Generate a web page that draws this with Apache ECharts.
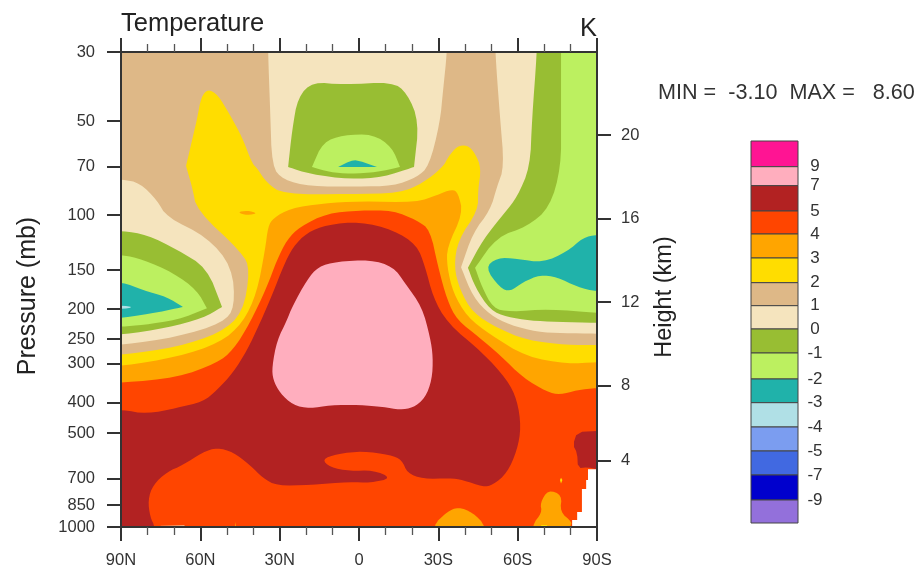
<!DOCTYPE html>
<html>
<head>
<meta charset="utf-8">
<style>html,body{margin:0;padding:0;background:#fff}#c{width:919px;height:569px}</style>
<script src="https://cdn.jsdelivr.net/npm/echarts@6/dist/echarts.min.js"></script>
</head>
<body>
<div id="c"></div>
<script>
// Tick labels
const pressureTicks = [30,50,70,100,150,200,250,300,400,500,700,850,1000];
const heightKm = [4,8,12,16,20];
const heightPressure = [614,353,190,102.4,55.4];
const levelLabels = ['9','7','5','4','3','2','1','0','-1','-2','-3','-4','-5','-7','-9'];
const boxColors = ['#FF1493','#FFAEBE','#B22222','#FF4500','#FFA500','#FFDD00','#DEB887','#F5E4BE','#98BE33','#BCF060','#20B2AA','#B0E0E6','#7B9DF0','#4169E1','#0000CD','#9370DB'];
const boxEdges = [0,25.7,44.7,70,93,117,141.7,164.7,188,212,238,261.7,286,310,334,359,382];

// Filled contour regions as [latitude, pressure]
const tanBase = [[98,25],[-98,25],[-98,1200],[98,1200]];
const wheatCenter = [[34.4,25],[34.4,30],[33.6,46],[32.9,70],[28.7,77],[18.5,81],[0.7,81],[-12.9,80.7],[-21.9,75.6],[-26.5,69.6],[-30.6,50.7],[-31.8,39.7],[-33.3,30],[-33.3,25]];
const wheatRight = [[-51.5,25],[-51.5,30],[-53.3,48.4],[-54.9,70],[-52.2,81],[-49.6,96.6],[-43.1,113.9],[-38.6,147],[-38.6,147],[-43.1,183],[-49.6,209],[-57.1,225],[-67.3,237],[-77.2,239],[-90,240],[-98,240],[-98,25]];
const wheatLeft = [[98,76.8],[89.6,76.8],[82.8,78.9],[76.4,89.6],[72.6,101.7],[57.5,117.3],[48,146.4],[46.9,197],[51.4,221.5],[68.8,246],[89.6,261],[98,261]];
const greenCenter = [[26.8,70.1],[26.8,70.1],[25.3,53.4],[23.1,41.8],[17.4,37.4],[6,38.2],[-12.5,37.4],[-18.2,40.6],[-22.7,50.3],[-20.8,70.1],[-20.8,70.1],[-9.1,75.6],[3.4,76.8],[18.5,73.9]];
const greenRight = [[-67.3,25],[-67.3,30],[-65.4,49.5],[-64.7,70.1],[-59.8,87.6],[-55.2,98],[-46.9,119.9],[-41.2,147.5],[-41.2,147.5],[-43.9,170],[-49.6,202],[-56,212],[-64.7,218],[-74.9,220],[-90,221.5],[-98,221.5],[-98,25]];
const greenLeft = [[98,112.3],[89.6,112.3],[80.2,115.6],[68.8,129],[57.5,147.5],[51.8,197],[51.8,197],[59,214],[72.6,230],[89.6,242],[98,242]];
const limeCenter = [[17.8,70.1],[17.8,70.1],[13.6,58.3],[6,55.4],[-5.3,55],[-12.5,60.6],[-15.5,70.1],[-15.5,70.1],[-6.8,72.8],[3.4,73.9],[11,72.8]];
const limeRight = [[-76.4,25],[-76.4,30],[-76.4,49.5],[-76.4,70.1],[-72.2,94.5],[-63.5,109],[-52.2,117.3],[-43.9,147.5],[-43.9,147.5],[-46.5,170],[-50.7,199],[-57.1,204.5],[-72.2,200],[-90,206],[-98,206],[-98,25]];
const limeLeft = [[98,134],[89.6,134],[81.7,139],[70.3,153],[61.3,174],[57.5,199],[57.5,199],[68.8,217],[81.7,225],[89.6,228],[98,228]];
const tealCenter = [[7.9,70.1],[7.9,70.1],[3.4,67.1],[0.7,66.6],[-6.8,70.1],[-6.8,70.1]];
const tealRight = [[-47.7,147.5],[-52.2,137],[-59.8,138],[-69.6,142],[-78.7,131],[-84.7,118.1],[-90,115.6],[-98,115.6],[-98,176],[-90,176],[-82.5,170],[-74.9,157.8],[-68.5,155.5],[-62,164],[-57.1,176],[-53.3,171]];
const tealLeft = [[98,164],[89.6,164],[81.7,174],[72.6,183],[66.6,197],[66.6,197],[75.2,204.5],[89.6,214],[98,214]];
const blueSliver = [[98,195],[89,195],[85.5,197.5],[89,200],[98,200]];
const yellowMain = [[98,281],[89.6,281],[68.8,265],[52.6,239],[43.9,206],[41.2,149.7],[44.2,132],[61.3,96.6],[63.1,81.3],[65.4,69.6],[65.4,69.6],[63.1,57.4],[61.3,49.5],[59.7,41.8],[57.1,39.4],[53.3,41.2],[48.8,47.7],[44.2,56.2],[40.5,68.1],[38.6,70.7],[34.8,78.9],[28.7,85.7],[3.4,85.7],[-15.5,85],[-24.2,78.9],[-31.8,70.1],[-33.7,65.1],[-37.1,60.1],[-40.9,59.6],[-43.9,63.3],[-46.2,70.7],[-45,83.2],[-45,96.6],[-37.5,119.9],[-35.9,146.4],[-38.2,174],[-43.1,206],[-52.2,230],[-63.5,252],[-78.7,261],[-90,261],[-98,261],[-98,1200],[98,1200]];
const orangeSliver = [[46.1,98],[42.3,96.6],[38.2,98.7],[42.3,100.2]];
const orangeMain = [[98,305],[89.6,305],[68.8,285],[52.6,257],[43.9,221.5],[38.6,177.5],[35.5,129],[34.4,109],[32.5,102.4],[26.1,95.2],[13.6,91.7],[-0.4,90.3],[-21.9,91],[-29.5,86.3],[-35.2,82.5],[-37.5,85],[-39.3,98.7],[-33.3,126.6],[-33.3,146.4],[-35.6,177.5],[-40.9,212],[-49.6,242],[-63.5,285],[-78.7,300],[-90,296],[-98,296],[-98,1200],[98,1200]];
const redOrangeMain = [[98,345],[89.6,345],[68.8,332],[53.7,298],[47.6,271],[41.2,221.5],[34.8,170],[31,139],[27.2,119.9],[22.3,109],[12.1,98.7],[-0.4,96.6],[-12.9,96.6],[-21.9,104],[-26.9,111.5],[-29.9,146.4],[-33.3,187],[-37.1,217],[-45.8,248],[-53.3,281],[-62,332],[-71.1,369],[-76,377],[-82.5,364],[-90,358],[-98,358],[-98,1200],[98,1200]];
const brickMain = [[98,421],[89.6,421],[80.2,434],[68.8,415],[59,397],[53.7,364],[47.6,320],[42.3,271],[37.4,221.5],[32.5,177.5],[28.7,146.4],[25,126.6],[19.7,113.9],[12.1,107.4],[-0.4,105],[-12.9,111.5],[-21.9,124.7],[-25,146.4],[-28,183],[-33.3,221.5],[-46.9,277],[-56,337],[-59.8,391],[-61.3,478],[-59.8,567],[-56,671],[-50.7,733],[-46.9,744],[-39.3,707],[-34.4,697],[-24.2,702],[-18.2,671],[-16.3,610],[-11.7,587],[-1.5,571],[8.3,583],[14,606],[11,643],[3.4,662],[-5.3,657],[-12.5,697],[-4.2,722],[3.4,717],[18.5,733],[31,738],[36.3,697],[41.2,633],[47.6,575],[53.7,557],[59,575],[66.6,633],[72.6,666],[77.9,733],[79.8,819],[79,928],[77.1,1000],[77.1,1200],[98,1200]];
const brickRight = [[-82.5,496],[-90,492],[-98,492],[-98,653],[-90,653],[-86.6,643],[-82.8,648],[-82.5,579],[-80.9,546]];
const orangeBottomA = [[-28,986],[-33.3,895],[-37.5,862],[-43.1,900],[-48,993],[-48,1200],[-28,1200]];
const orangeBottomB = [[-65.4,986],[-69.2,900],[-68.5,837],[-71.5,760],[-76.8,789],[-76,895],[-80.6,964],[-79.8,993],[-79.8,1200],[-65.4,1200]];
const orangeBottomC = [[46.9,964],[43.9,1200],[46.9,1200]];
const paleBottom = [[77,1200],[75,990],[66,985],[65,1200]];
const yellowBottom = [[-66,1200],[-68,985],[-72,985],[-74,1200]];
const yellowSpeck = [[-76.4,695],[-76.9,707],[-76.4,725],[-76,707]];
const pinkCore = [[15.5,146.4],[8.3,141],[-4.2,139],[-12.9,146.4],[-17.4,165],[-23.8,197],[-26.9,246],[-28,285],[-27.6,337],[-25,386],[-20.4,415],[-15.5,421],[-9.1,412],[-0.4,406],[11,406],[18.5,418],[25,406],[29.9,372],[32.5,337],[32.9,307],[31,252],[27.2,217],[25.3,197],[19.7,161.4]];
const missingCells = [[-90,653],[-86.6,653],[-86.6,707],[-85.9,707],[-85.9,756],[-84.3,756],[-84.3,895],[-82.5,895],[-82.5,949],[-80.6,949],[-80.6,1200],[-98,1200],[-98,653]];

const C = {pink:'#FFAEBE',brick:'#B22222',red:'#FF4500',orange:'#FFA500',yellow:'#FFDD00',tan:'#DEB887',wheat:'#F5E4BE',green:'#98BE33',lime:'#BCF060',teal:'#20B2AA',blue:'#B0E0E6',pale:'#F6A878'};
const layers = [
  [tanBase,C.tan,0],[wheatCenter,C.wheat,2],[wheatRight,C.wheat,2],[wheatLeft,C.wheat,2],
  [greenCenter,C.green,2],[greenRight,C.green,2],[greenLeft,C.green,2],
  [limeCenter,C.lime,2],[limeRight,C.lime,2],[limeLeft,C.lime,2],
  [tealCenter,C.teal,1],[tealRight,C.teal,2],[tealLeft,C.teal,2],[blueSliver,C.blue,1],
  [yellowMain,C.yellow,2],[orangeSliver,C.orange,2],[orangeMain,C.orange,2],[redOrangeMain,C.red,2],
  [brickMain,C.brick,2],[brickRight,C.brick,1],[orangeBottomA,C.orange,2],[orangeBottomB,C.orange,2],[orangeBottomC,C.orange,0],[paleBottom,C.pale,0],
  [yellowBottom,C.yellow,1],[yellowSpeck,C.yellow,0],[pinkCore,C.pink,2],[missingCells,'#ffffff',0]
];

function chaikin(pts,n){
  for(let k=0;k<n;k++){
    const out=[];
    for(let i=0;i<pts.length;i++){
      const a=pts[i],b=pts[(i+1)%pts.length];
      out.push([a[0]*.75+b[0]*.25,a[1]*.75+b[1]*.25],[a[0]*.25+b[0]*.75,a[1]*.25+b[1]*.75]);
    }
    pts=out;
  }
  return pts;
}
function renderLayer(params,api){
  const L=layers[params.dataIndex];
  const pix=[];
  L[0].forEach(function(d){
    const q=api.coord(d);
    pix.push(q);
    if(Math.abs(d[0])>90||d[1]<30||d[1]>1000) pix.push(q);
  });
  return {type:'polygon',shape:{points:chaikin(pix,L[2])},style:{fill:L[1],stroke:null}};
}
function renderBox(params,api){
  const i=params.dataIndex;
  const a=api.coord([0,boxEdges[i]]),b=api.coord([1,boxEdges[i+1]]);
  return {type:'rect',shape:{x:a[0],y:a[1],width:b[0]-a[0],height:b[1]-a[1]},
    style:{fill:boxColors[i],stroke:'#444',lineWidth:1}};
}
function latLabel(v){return v===0?'0':Math.abs(v)+(v>0?'N':'S');}
function nearestHeight(v){
  let best=0;
  heightPressure.forEach(function(p,i){if(Math.abs(Math.log(p/v))<Math.abs(Math.log(heightPressure[best]/v)))best=i;});
  return String(heightKm[best]);
}
function levelLabel(v){
  let best=1;
  for(let i=1;i<boxEdges.length-1;i++){if(Math.abs(boxEdges[i]-v)<Math.abs(boxEdges[best]-v))best=i;}
  return levelLabels[best-1];
}
const FONT='"Liberation Sans",Helvetica,Arial,sans-serif';
const INK='#222';
const line={show:true,onZero:false,lineStyle:{color:'#333',width:2}};
const tick={show:true,length:14,lineStyle:{color:'#333',width:2}};
const minor={show:true,splitNumber:3,length:8,lineStyle:{color:'#555',width:1.3}};
const lab={fontFamily:FONT,fontSize:16.5,color:'#333'};

const chart=echarts.init(document.getElementById('c'),null,{renderer:'canvas'});
chart.setOption({
  animation:false,
  backgroundColor:'#fff',
  title:[
    {text:'Temperature',left:116,top:6,textStyle:{fontFamily:FONT,fontSize:25.5,fontWeight:'normal',color:INK}},
    {text:'K',left:575,top:11,textStyle:{fontFamily:FONT,fontSize:25.5,fontWeight:'normal',color:INK}},
    {text:'MIN =  -3.10  MAX =   8.60',left:653,top:77,textStyle:{fontFamily:FONT,fontSize:21.6,fontWeight:'normal',color:'#333'}}
  ],
  graphic:[
    {type:'text',x:28,y:296,rotation:Math.PI/2,style:{text:'Pressure (mb)',fontFamily:FONT,fontSize:25,fill:INK,align:'center',verticalAlign:'middle'}},
    {type:'text',x:665,y:297,rotation:Math.PI/2,style:{text:'Height (km)',fontFamily:FONT,fontSize:23.5,fill:INK,align:'center',verticalAlign:'middle'}}
  ],
  grid:[
    {left:121,top:52,width:476,height:475,containLabel:false},
    {left:751,top:141,width:47,height:382,containLabel:false}
  ],
  xAxis:[
    {gridIndex:0,type:'value',min:-90,max:90,interval:30,inverse:true,position:'bottom',z:10,axisLine:line,axisTick:tick,minorTick:minor,splitLine:{show:false},minorSplitLine:{show:false},
      axisLabel:Object.assign({margin:25,formatter:latLabel,showMinLabel:true,showMaxLabel:true},lab)},
    {gridIndex:0,type:'value',min:-90,max:90,interval:30,inverse:true,position:'top',z:10,axisLine:line,axisTick:tick,minorTick:minor,splitLine:{show:false},minorSplitLine:{show:false},axisLabel:{show:false}},
    {gridIndex:1,type:'value',min:0,max:1,show:false}
  ],
  yAxis:[
    {gridIndex:0,type:'log',logBase:10,min:30,max:1000,inverse:true,position:'left',z:10,axisLine:line,
      axisTick:Object.assign({},tick,{customValues:pressureTicks}),minorTick:{show:false},splitLine:{show:false},minorSplitLine:{show:false},
      axisLabel:Object.assign({margin:26,customValues:pressureTicks,formatter:function(v){return String(Math.round(v));}},lab)},
    {gridIndex:0,type:'log',logBase:10,min:30,max:1000,inverse:true,position:'right',z:10,axisLine:line,
      axisTick:Object.assign({},tick,{customValues:heightPressure}),minorTick:{show:false},splitLine:{show:false},minorSplitLine:{show:false},
      axisLabel:Object.assign({margin:24,customValues:heightPressure,formatter:nearestHeight},lab)},
    {gridIndex:1,type:'value',min:0,max:382,inverse:true,position:'right',z:10,axisLine:{show:false},axisTick:{show:false},splitLine:{show:false},
      axisLabel:Object.assign({margin:17,align:'center',customValues:boxEdges.slice(1,-1),formatter:levelLabel},lab,{fontSize:17})}
  ],
  series:[
    {type:'custom',xAxisIndex:0,yAxisIndex:0,coordinateSystem:'cartesian2d',clip:true,silent:true,z:2,
      renderItem:renderLayer,data:layers.map(function(){return [0,100];}),encode:{x:0,y:1}},
    {type:'custom',xAxisIndex:2,yAxisIndex:2,coordinateSystem:'cartesian2d',silent:true,z:2,
      renderItem:renderBox,data:boxColors.map(function(){return [0,0];}),encode:{x:0,y:1}}
  ]
});
</script>
</body>
</html>
